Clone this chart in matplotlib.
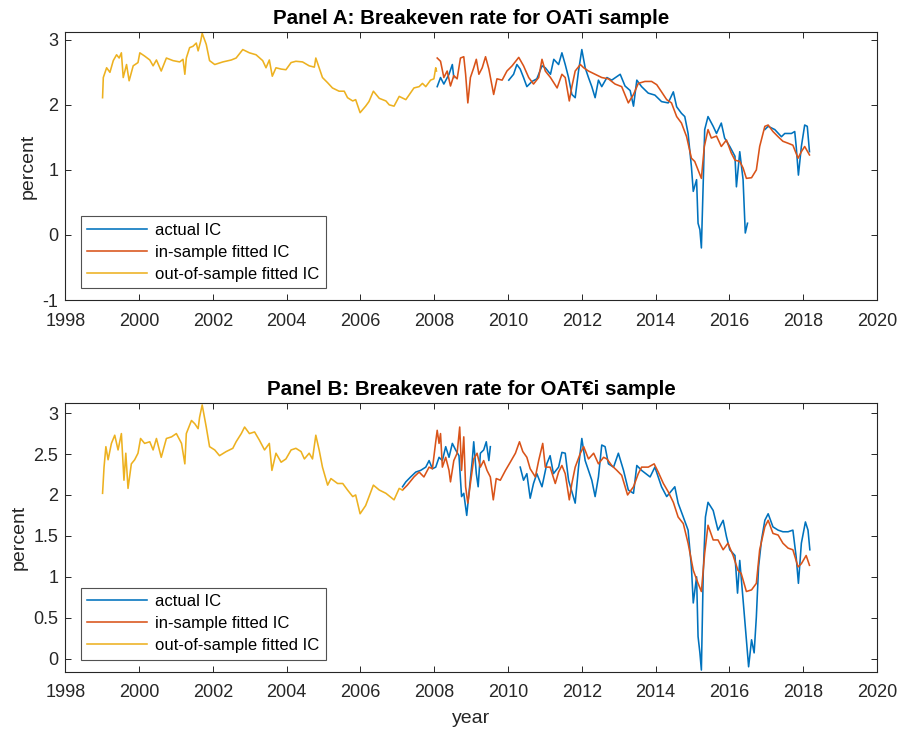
import numpy as np
import matplotlib
matplotlib.use("Agg")
import matplotlib.pyplot as plt

plt.rcParams['font.family'] = ['Liberation Sans', 'DejaVu Sans']

nan = np.nan

# ---------------- Panel A: OATi sample ----------------
a_oos_t = [1999.01, 1999.03, 1999.12, 1999.21, 1999.30, 1999.39, 1999.46, 1999.52, 1999.57, 1999.66,
           1999.73, 1999.84, 1999.97, 2000.02, 2000.15, 2000.29, 2000.38, 2000.47, 2000.60, 2000.74,
           2000.92, 2001.10, 2001.19, 2001.24, 2001.28, 2001.37, 2001.46, 2001.55, 2001.60, 2001.67,
           2001.71, 2001.82, 2001.91, 2002.05, 2002.27, 2002.50, 2002.63, 2002.81, 2002.99, 2003.17,
           2003.35, 2003.44, 2003.53, 2003.61, 2003.71, 2003.85, 2003.98, 2004.12, 2004.25, 2004.43,
           2004.61, 2004.75, 2004.79, 2004.88, 2004.97, 2005.11, 2005.24, 2005.42, 2005.56, 2005.65,
           2005.79, 2005.87, 2005.99, 2006.14, 2006.23, 2006.35, 2006.51, 2006.69, 2006.78, 2006.91,
           2007.05, 2007.23, 2007.45, 2007.59, 2007.68, 2007.77, 2007.90, 2007.99, 2008.04, 2008.06]
a_oos_v = [2.11, 2.42, 2.57, 2.50, 2.68, 2.77, 2.72, 2.80, 2.42, 2.62,
           2.37, 2.60, 2.65, 2.80, 2.75, 2.69, 2.60, 2.69, 2.52, 2.72,
           2.68, 2.66, 2.70, 2.47, 2.72, 2.88, 2.90, 2.95, 2.83, 2.98,
           3.10, 2.93, 2.68, 2.62, 2.66, 2.69, 2.72, 2.85, 2.80, 2.77,
           2.68, 2.57, 2.69, 2.44, 2.57, 2.55, 2.54, 2.65, 2.67, 2.66,
           2.60, 2.58, 2.72, 2.57, 2.42, 2.34, 2.26, 2.21, 2.21, 2.11,
           2.06, 2.08, 1.88, 1.98, 2.05, 2.21, 2.10, 2.06, 2.00, 1.98,
           2.13, 2.08, 2.26, 2.28, 2.33, 2.28, 2.38, 2.40, 2.57, 2.52]

a_fit_t = [2008.08, 2008.17, 2008.26, 2008.35, 2008.44, 2008.53, 2008.62, 2008.71, 2008.80, 2008.85,
           2008.91, 2008.98, 2009.07, 2009.14, 2009.21, 2009.30, 2009.39, 2009.48, 2009.61, 2009.70,
           2009.84, 2009.97, 2010.11, 2010.29, 2010.42, 2010.56, 2010.69, 2010.83, 2010.92, 2011.01,
           2011.15, 2011.33, 2011.46, 2011.55, 2011.66, 2011.73, 2011.82, 2011.96, 2012.05, 2012.18,
           2012.36, 2012.54, 2012.72, 2012.90, 2013.08, 2013.26, 2013.40, 2013.53, 2013.71, 2013.89,
           2014.03, 2014.16, 2014.30, 2014.43, 2014.57, 2014.70, 2014.84, 2014.97, 2015.06, 2015.15,
           2015.24, 2015.32, 2015.42, 2015.51, 2015.65, 2015.78, 2015.92, 2016.05, 2016.15, 2016.28,
           2016.37, 2016.46, 2016.60, 2016.73, 2016.82, 2016.96, 2017.05, 2017.18, 2017.32, 2017.45,
           2017.59, 2017.72, 2017.86, 2017.95, 2018.04, 2018.17]
a_fit_v = [2.72, 2.67, 2.42, 2.52, 2.29, 2.45, 2.40, 2.72, 2.74, 2.47,
           2.03, 2.42, 2.57, 2.70, 2.47, 2.57, 2.74, 2.55, 2.16, 2.40,
           2.38, 2.52, 2.60, 2.73, 2.60, 2.42, 2.32, 2.42, 2.70, 2.52,
           2.42, 2.26, 2.47, 2.42, 2.06, 2.28, 2.52, 2.62, 2.57, 2.52,
           2.47, 2.42, 2.40, 2.32, 2.28, 2.03, 2.16, 2.33, 2.36, 2.36,
           2.31, 2.20, 2.08, 2.03, 1.82, 1.72, 1.51, 1.18, 1.13, 1.00,
           0.87, 1.36, 1.62, 1.49, 1.52, 1.36, 1.46, 1.26, 1.15, 1.13,
           1.03, 0.87, 0.88, 1.00, 1.36, 1.67, 1.69, 1.59, 1.51, 1.44,
           1.41, 1.38, 1.18, 1.28, 1.36, 1.23]

a_act_t = [2008.08, 2008.17, 2008.26, 2008.40, 2008.49, 2008.53, 2009.30,
           2010.02, 2010.15, 2010.24, 2010.33, 2010.42, 2010.51, 2010.65, 2010.78, 2010.92, 2011.01,
           2011.15, 2011.24, 2011.37, 2011.46, 2011.55, 2011.64, 2011.73, 2011.82, 2011.91, 2012.00,
           2012.09, 2012.18, 2012.27, 2012.36, 2012.45, 2012.54, 2012.68, 2012.81, 2013.04, 2013.17,
           2013.31, 2013.40, 2013.49, 2013.62, 2013.80, 2013.98, 2014.16, 2014.34, 2014.48, 2014.57,
           2014.70, 2014.79, 2014.88, 2014.97, 2015.02, 2015.11, 2015.15, 2015.20, 2015.24, 2015.29,
           2015.33, 2015.42, 2015.56, 2015.65, 2015.78, 2015.87, 2016.01, 2016.15, 2016.19, 2016.28,
           2016.37, 2016.43, 2016.49, 2016.70,
           2016.96, 2017.05, 2017.23, 2017.41, 2017.50, 2017.68, 2017.77, 2017.81, 2017.87, 2017.95,
           2018.04, 2018.11, 2018.17]
a_act_v = [2.28, 2.42, 2.32, 2.47, 2.62, 2.42, nan,
           2.38, 2.47, 2.62, 2.55, 2.42, 2.28, 2.36, 2.40, 2.60, 2.57,
           2.47, 2.70, 2.62, 2.80, 2.62, 2.42, 2.16, 2.11, 2.52, 2.85,
           2.57, 2.42, 2.28, 2.11, 2.38, 2.28, 2.42, 2.38, 2.47, 2.29,
           2.22, 1.98, 2.38, 2.28, 2.18, 2.15, 2.05, 2.03, 2.20, 1.97,
           1.87, 1.82, 1.56, 1.05, 0.67, 0.85, 0.18, 0.08, -0.20, 0.80,
           1.62, 1.82, 1.67, 1.56, 1.72, 1.49, 1.36, 1.21, 0.74, 1.28,
           0.85, 0.03, 0.18, nan,
           1.62, 1.67, 1.62, 1.51, 1.56, 1.56, 1.59, 1.36, 0.92, 1.36,
           1.69, 1.67, 1.28]

# ---------------- Panel B: OAT€i sample ----------------
b_oos_t = [1999.01, 1999.05, 1999.10, 1999.16, 1999.25, 1999.34, 1999.43, 1999.52, 1999.59, 1999.64,
           1999.70, 1999.79, 1999.88, 1999.97, 2000.04, 2000.15, 2000.29, 2000.38, 2000.47, 2000.60,
           2000.74, 2000.88, 2001.01, 2001.15, 2001.24, 2001.28, 2001.42, 2001.51, 2001.60, 2001.64,
           2001.71, 2001.82, 2001.91, 2002.05, 2002.18, 2002.36, 2002.54, 2002.63, 2002.77, 2002.86,
           2002.99, 2003.13, 2003.26, 2003.40, 2003.53, 2003.60, 2003.71, 2003.85, 2003.98, 2004.12,
           2004.25, 2004.39, 2004.48, 2004.61, 2004.70, 2004.79, 2004.88, 2004.97, 2005.11, 2005.20,
           2005.38, 2005.52, 2005.65, 2005.79, 2005.87, 2005.99, 2006.14, 2006.35, 2006.51, 2006.69,
           2006.91, 2007.05, 2007.14]
b_oos_v = [2.02, 2.34, 2.59, 2.43, 2.63, 2.73, 2.55, 2.75, 2.18, 2.51,
           2.08, 2.38, 2.43, 2.51, 2.69, 2.63, 2.65, 2.55, 2.69, 2.46,
           2.69, 2.71, 2.75, 2.63, 2.38, 2.75, 2.91, 2.87, 2.81, 2.95,
           3.10, 2.83, 2.59, 2.55, 2.48, 2.53, 2.57, 2.65, 2.75, 2.83,
           2.75, 2.77, 2.67, 2.55, 2.63, 2.30, 2.51, 2.40, 2.44, 2.55,
           2.57, 2.53, 2.44, 2.51, 2.44, 2.73, 2.55, 2.34, 2.12, 2.20,
           2.14, 2.14, 2.06, 1.98, 2.00, 1.77, 1.87, 2.12, 2.06, 2.02,
           1.94, 2.08, 2.06]

b_fit_t = [2007.14, 2007.27, 2007.45, 2007.59, 2007.72, 2007.86, 2007.95, 2008.04, 2008.08, 2008.13,
           2008.17, 2008.22, 2008.31, 2008.40, 2008.44, 2008.53, 2008.62, 2008.69, 2008.74, 2008.80,
           2008.85, 2008.91, 2008.98, 2009.07, 2009.16, 2009.25, 2009.34, 2009.43, 2009.52, 2009.60,
           2009.68, 2009.79, 2009.93, 2010.06, 2010.20, 2010.31, 2010.40, 2010.51, 2010.60, 2010.74,
           2010.83, 2010.94, 2011.01, 2011.14, 2011.28, 2011.37, 2011.46, 2011.55, 2011.66, 2011.73,
           2011.82, 2011.96, 2012.05, 2012.18, 2012.32, 2012.45, 2012.59, 2012.68, 2012.81, 2012.95,
           2013.08, 2013.24, 2013.40, 2013.53, 2013.62, 2013.80, 2013.96, 2014.07, 2014.21, 2014.34,
           2014.48, 2014.61, 2014.75, 2014.88, 2015.02, 2015.15, 2015.24, 2015.33, 2015.42, 2015.56,
           2015.69, 2015.83, 2015.96, 2016.10, 2016.23, 2016.32, 2016.46, 2016.60, 2016.73, 2016.82,
           2016.96, 2017.05, 2017.18, 2017.32, 2017.45, 2017.59, 2017.72, 2017.86, 2017.95, 2018.08,
           2018.17]
b_fit_v = [2.06, 2.12, 2.22, 2.28, 2.22, 2.34, 2.32, 2.65, 2.79, 2.63,
           2.75, 2.34, 2.46, 2.30, 2.16, 2.42, 2.51, 2.83, 2.30, 2.71,
           2.10, 1.90, 2.14, 2.44, 2.51, 2.34, 2.42, 2.30, 2.22, 1.94,
           2.20, 2.18, 2.30, 2.40, 2.51, 2.65, 2.53, 2.46, 2.32, 2.22,
           2.42, 2.63, 2.34, 2.34, 2.14, 2.28, 2.36, 2.26, 1.94, 2.14,
           2.34, 2.51, 2.59, 2.44, 2.51, 2.38, 2.46, 2.44, 2.36, 2.30,
           2.24, 2.00, 2.10, 2.26, 2.34, 2.34, 2.38, 2.28, 2.14, 2.04,
           1.91, 1.73, 1.65, 1.41, 1.08, 0.92, 0.82, 1.29, 1.63, 1.45,
           1.45, 1.33, 1.41, 1.26, 1.08, 1.04, 0.82, 0.84, 0.92, 1.33,
           1.61, 1.69, 1.53, 1.51, 1.41, 1.35, 1.33, 1.12, 1.16, 1.26,
           1.14]

b_act_t = [2007.14, 2007.23, 2007.36, 2007.50, 2007.63, 2007.77, 2007.86, 2007.95, 2008.04, 2008.13,
           2008.22, 2008.31, 2008.40, 2008.49, 2008.58, 2008.67, 2008.74, 2008.80, 2008.88, 2008.94,
           2009.03, 2009.07, 2009.14, 2009.19, 2009.25, 2009.34, 2009.41, 2009.48, 2009.52, 2009.90,
           2010.33, 2010.42, 2010.51, 2010.60, 2010.69, 2010.78, 2010.92, 2011.05, 2011.14, 2011.23,
           2011.37, 2011.46, 2011.55, 2011.64, 2011.73, 2011.82, 2011.91, 2012.00, 2012.09, 2012.18,
           2012.27, 2012.36, 2012.45, 2012.54, 2012.63, 2012.72, 2012.86, 2012.99, 2013.13, 2013.26,
           2013.40, 2013.49, 2013.62, 2013.85, 2013.98, 2014.16, 2014.30, 2014.52, 2014.61, 2014.75,
           2014.88, 2014.97, 2015.02, 2015.11, 2015.15, 2015.20, 2015.24, 2015.29, 2015.35, 2015.42,
           2015.56, 2015.69, 2015.83, 2015.92, 2016.01, 2016.15, 2016.22, 2016.28, 2016.37, 2016.46,
           2016.52, 2016.60, 2016.67, 2016.73, 2016.79, 2016.87, 2016.96, 2017.05, 2017.18, 2017.32,
           2017.45, 2017.59, 2017.72, 2017.81, 2017.87, 2017.95, 2018.06, 2018.13, 2018.18]
b_act_v = [2.10, 2.16, 2.22, 2.28, 2.30, 2.34, 2.42, 2.32, 2.34, 2.46,
           2.42, 2.59, 2.46, 2.63, 2.55, 2.48, 1.98, 2.02, 1.75, 2.02,
           2.42, 2.65, 2.26, 2.10, 2.51, 2.55, 2.65, 2.42, 2.59, nan,
           2.34, 2.18, 2.26, 1.96, 2.14, 2.26, 2.10, 2.38, 2.48, 2.26,
           2.34, 2.52, 2.51, 2.18, 2.04, 1.90, 2.34, 2.69, 2.42, 2.30,
           2.18, 1.98, 2.22, 2.61, 2.59, 2.38, 2.34, 2.51, 2.30, 2.06,
           2.02, 2.36, 2.30, 2.22, 2.34, 2.10, 1.98, 2.10, 1.90, 1.73,
           1.57, 1.12, 0.68, 1.00, 0.27, 0.07, -0.14, 1.04, 1.73, 1.91,
           1.81, 1.57, 1.69, 1.49, 1.33, 1.26, 0.80, 1.20, 0.72, 0.23,
           -0.10, 0.23, 0.07, 0.51, 1.12, 1.45, 1.69, 1.77, 1.61, 1.57,
           1.55, 1.55, 1.57, 1.24, 0.92, 1.41, 1.67, 1.57, 1.33]

series_labels = ['actual IC', 'in-sample fitted IC', 'out-of-sample fitted IC']
panel_titles = ['Panel A: Breakeven rate for OATi sample',
                'Panel B: Breakeven rate for OAT\u20aci sample']
xticks = [1998, 2000, 2002, 2004, 2006, 2008, 2010, 2012, 2014, 2016, 2018, 2020]
yticks_a = [-1, 0, 1, 2, 3]
yticks_b = [0, 0.5, 1, 1.5, 2, 2.5, 3]

C_BLUE = '#0072BD'
C_RED = '#D95319'
C_YEL = '#EDB120'
AX_COL = '#262626'

W, H = 898, 731
fig = plt.figure(figsize=(W / 100, H / 100), dpi=100)


def px_axes(left, top, right, bottom):
    return fig.add_axes([left / W, 1 - bottom / H, (right - left) / W, (bottom - top) / H])


axA = px_axes(65.3, 32, 877, 300)
axB = px_axes(65.3, 403.3, 877, 671.7)

panels = [
    (axA, a_act_t, a_act_v, a_fit_t, a_fit_v, a_oos_t, a_oos_v, (-1, 3.12), yticks_a, ['-1', '0', '1', '2', '3']),
    (axB, b_act_t, b_act_v, b_fit_t, b_fit_v, b_oos_t, b_oos_v, (-0.16, 3.12), yticks_b,
     ['0', '0.5', '1', '1.5', '2', '2.5', '3']),
]

for i, (ax, at, av, ft, fv, ot, ov, ylim, yt, ytl) in enumerate(panels):
    ax.plot(at, av, color=C_BLUE, lw=1.15, label=series_labels[0])
    ax.plot(ft, fv, color=C_RED, lw=1.15, label=series_labels[1])
    ax.plot(ot, ov, color=C_YEL, lw=1.15, label=series_labels[2])
    ax.set_xlim(1998, 2020)
    ax.set_ylim(*ylim)
    ax.set_xticks(xticks)
    ax.set_xticklabels([str(x) for x in xticks])
    ax.set_yticks(yt)
    ax.set_yticklabels(ytl)
    ax.tick_params(direction='in', top=True, right=True, length=4, width=0.7,
                   colors=AX_COL, labelsize=13)
    ax.tick_params(axis='x', pad=9)
    ax.tick_params(axis='y', pad=5)
    for s in ax.spines.values():
        s.set_color(AX_COL)
        s.set_linewidth(0.8)
    ax.set_ylabel('percent', fontsize=14, color=AX_COL, labelpad=4)
    ax.set_title(panel_titles[i], fontsize=14.8, fontweight='bold', color='black', pad=6)
    leg = ax.legend(loc='lower left', bbox_to_anchor=(0.019, 0.0437), borderaxespad=0,
                    fontsize=12, frameon=True, fancybox=False, handlelength=3.6,
                    handletextpad=0.45, labelspacing=0.42, borderpad=0.4)
    leg.get_frame().set_edgecolor(AX_COL)
    leg.get_frame().set_linewidth(0.8)

axB.set_xlabel('year', fontsize=14, color=AX_COL, labelpad=6)

fig.savefig('out.png', dpi=100)
